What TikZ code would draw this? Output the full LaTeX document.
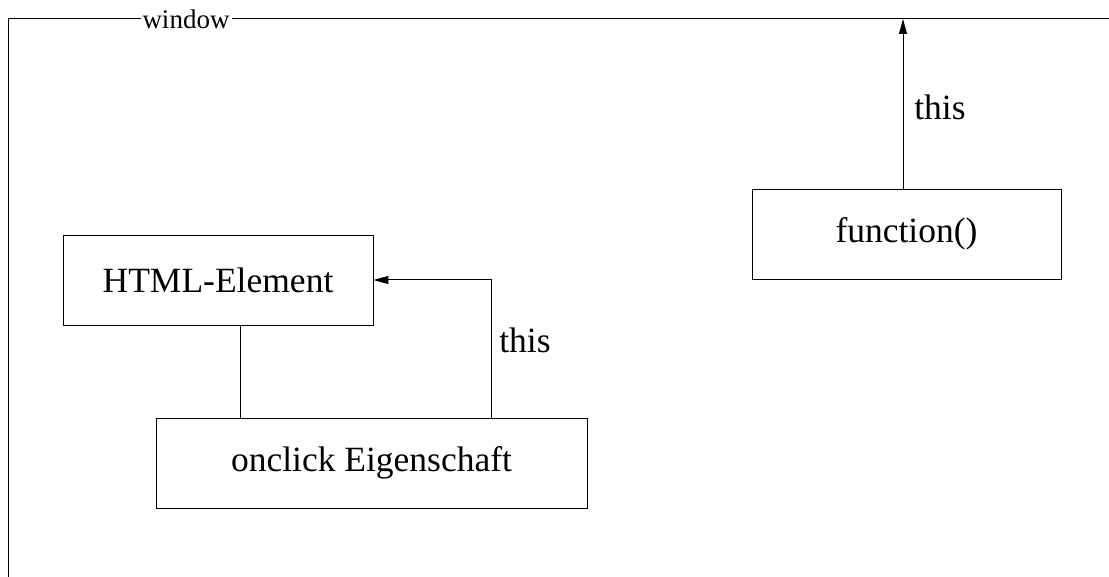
\documentclass[tikz,border=0pt]{standalone}
\usepackage{fontspec}
\setmainfont{Liberation Serif}
\usetikzlibrary{arrows.meta}
\begin{document}
\begin{tikzpicture}[
  box/.style={draw, line width=0.9pt, inner sep=0pt, minimum height=90pt,
    font=\fontsize{35.5}{42}\selectfont},
  lbl/.style={font=\fontsize{35.5}{42}\selectfont, inner sep=0pt},
  conn/.style={line width=1pt},
  arr/.style={conn, -{Triangle[length=15pt,width=8pt]}}]
  \useasboundingbox (0pt,0pt) rectangle (1109pt,-577pt);
  % outer window frame
  \coordinate (tl) at (8pt,-19pt);
  \coordinate (tr) at (1109pt,-19pt);
  \coordinate (bl) at (8pt,-577pt);
  \draw[conn] (bl) -- (tl) -- (tr);
  \node[fill=white, inner xsep=2pt, inner ysep=1pt,
    font=\fontsize{27}{30}\selectfont] (win) at (186pt,-19pt) {window};
  % boxes
  \node[box, minimum width=310pt] (html) at (218pt,-280pt) {HTML-Element};
  \node[box, minimum width=431pt] (onclick) at (371.5pt,-463pt) {onclick Eigenschaft};
  \node[box, minimum width=309pt] (func) at (906.5pt,-234pt) {function()};
  % connectors
  \draw[conn] (html.south -| 240pt,0pt) -- (onclick.north -| 240pt,0pt);
  \coordinate (bend) at (491.5pt,-280pt);
  \draw[arr] (onclick.north -| bend) -- (bend) -- (html.east);
  \coordinate (top) at (903pt,-19pt);
  \draw[arr] (func.north -| top) -- (top);
  % labels
  \node[lbl] (t1) at (525pt,-340pt) {this};
  \node[lbl] (t2) at (940pt,-107pt) {this};
\end{tikzpicture}
\end{document}
